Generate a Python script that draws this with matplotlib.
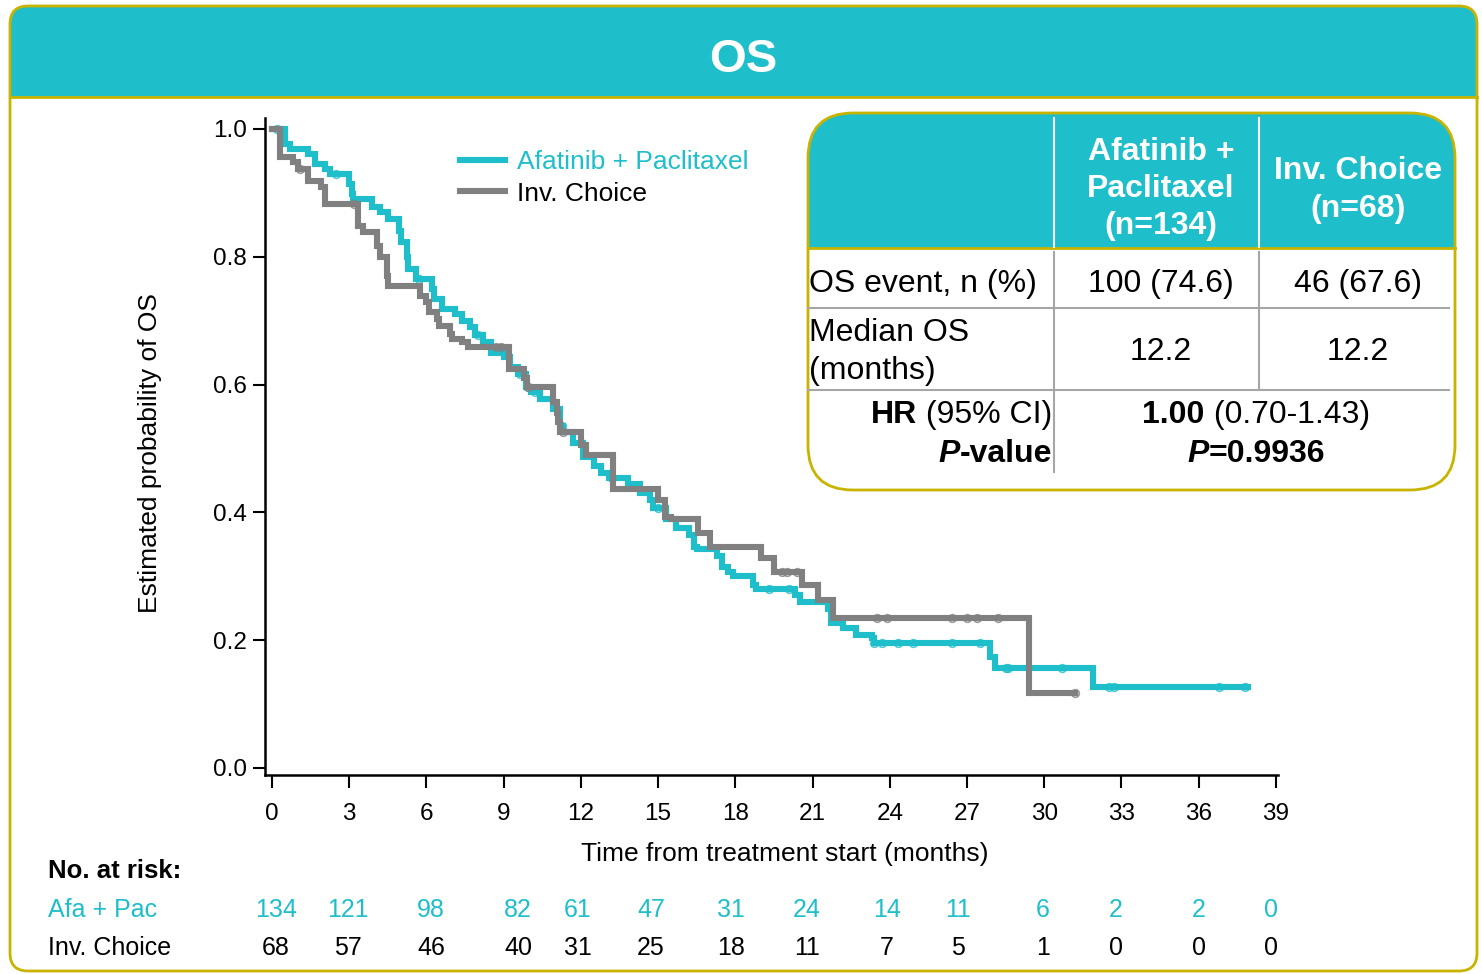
import matplotlib
matplotlib.use('Agg')
import matplotlib.pyplot as plt
import numpy as np
from matplotlib.patches import FancyBboxPatch, Rectangle
from matplotlib.transforms import blended_transform_factory

plt.rcParams['font.family'] = ['Liberation Sans', 'DejaVu Sans']

# ---------------- data ----------------
arm_labels = ['Afatinib + Paclitaxel', 'Inv. Choice']

# Kaplan-Meier steps: event times (months) and survival after each step
afa_times = [0.5, 0.7, 1.4, 1.67, 2.06, 2.25, 3.0, 3.1, 3.15, 3.9, 4.2, 4.5,
             4.95, 5.0, 5.25, 5.3, 5.6, 6.2, 6.3, 6.6, 7.1, 7.4, 7.7, 7.9,
             8.2, 8.5, 9.0, 9.25, 9.55, 9.85, 10.05, 10.4, 10.9, 11.2, 11.3,
             11.7, 12.1, 12.5, 12.8, 13.1, 13.85, 14.3, 14.7, 14.8, 15.3,
             15.7, 16.2, 16.4, 16.5, 17.3, 17.5, 17.7, 17.9, 18.7, 18.8,
             20.3, 20.5, 21.6, 21.7, 22.2, 22.7, 23.3, 23.4, 27.9, 28.1, 31.9]
afa_surv = [0.976, 0.969, 0.961, 0.945, 0.937, 0.929, 0.913, 0.898, 0.890,
            0.878, 0.870, 0.859, 0.840, 0.823, 0.800, 0.780, 0.765, 0.749,
            0.734, 0.718, 0.710, 0.700, 0.690, 0.677, 0.666, 0.650, 0.643,
            0.628, 0.616, 0.596, 0.588, 0.577, 0.561, 0.535, 0.525, 0.509,
            0.487, 0.472, 0.462, 0.454, 0.444, 0.431, 0.420, 0.407, 0.389,
            0.376, 0.365, 0.346, 0.342, 0.331, 0.315, 0.306, 0.300, 0.287,
            0.280, 0.271, 0.260, 0.248, 0.227, 0.219, 0.208, 0.204, 0.196,
            0.174, 0.157, 0.127]
afa_last = 37.9
afa_censored = [0.2, 2.5, 5.7, 8.0, 9.65, 9.95, 10.2, 11.25, 12.0, 13.2, 15.0,
                19.3, 20.1, 23.4, 23.7, 24.3, 24.9, 26.4, 27.5, 28.5, 28.6,
                30.7, 32.5, 32.7, 36.8, 37.8]

inv_times = [0.3, 0.8, 1.0, 1.4, 1.9, 2.06, 3.35, 3.55, 4.07, 4.2, 4.45, 4.5,
             5.75, 6.0, 6.1, 6.4, 6.5, 6.9, 7.0, 7.4, 7.6, 9.2, 9.8, 9.9,
             10.9, 11.07, 11.1, 11.2, 12.0, 12.2, 13.25, 15.0, 15.27, 15.5,
             16.55, 17.0, 19.0, 19.5, 20.6, 21.2, 21.8, 29.4]
inv_surv = [0.956, 0.948, 0.937, 0.918, 0.909, 0.882, 0.848, 0.838, 0.817,
            0.800, 0.770, 0.754, 0.738, 0.729, 0.713, 0.702, 0.691, 0.679,
            0.671, 0.666, 0.658, 0.624, 0.610, 0.596, 0.572, 0.556, 0.541,
            0.525, 0.506, 0.489, 0.436, 0.420, 0.393, 0.389, 0.368, 0.345,
            0.329, 0.307, 0.287, 0.263, 0.235, 0.118]
inv_last = 31.2
inv_censored = [1.1, 3.2, 8.7, 8.9, 9.95, 11.3, 19.8, 20.0, 20.4, 23.5, 23.9,
                26.4, 27.0, 27.4, 28.2, 31.2]

x_ticks = list(range(0, 40, 3))
y_ticks = [0.0, 0.2, 0.4, 0.6, 0.8, 1.0]

# numbers at risk and where they are printed (months)
risk_pos = [0.16, 2.95, 6.18, 9.56, 11.89, 14.72, 17.83, 20.78, 23.89, 26.65,
            29.95, 32.79, 36.01, 38.81]
afa_risk = [134, 121, 98, 82, 61, 47, 31, 24, 14, 11, 6, 2, 2, 0]
inv_risk = [68, 57, 46, 40, 31, 25, 18, 11, 7, 5, 1, 0, 0, 0]

# summary table
col_heads = ['Afatinib +\nPaclitaxel\n(n=134)', 'Inv. Choice\n(n=68)']
row_heads = ['OS event, n (%)', 'Median OS\n(months)']
afa_cells = ['100 (74.6)', '12.2']
inv_cells = ['46 (67.6)', '12.2']
hr_value = '1.00'
hr_ci = ' (0.70-1.43)'
p_value = '=0.9936'

# ---------------- styling ----------------
TEAL = '#1EBECA'
GRAY = '#808080'
OLIVE = '#C8B400'
DIV = '#A6A6A6'

W, H = 1482, 974
fig = plt.figure(figsize=(W / 100, H / 100), dpi=100)

# full-figure canvas in pixel units for the frame, table and labels
bg = fig.add_axes([0, 0, 1, 1])
bg.set_xlim(0, W)
bg.set_ylim(H, 0)
bg.axis('off')

frame = FancyBboxPatch((10, 6), 1467, 965, boxstyle='round,pad=0,rounding_size=18',
                       fc='white', ec='none')
bg.add_patch(frame)
header = Rectangle((10, 6), 1467, 91, fc=TEAL, ec='none')
header.set_clip_path(frame)
bg.add_patch(header)
bg.add_patch(FancyBboxPatch((10, 6), 1467, 965, boxstyle='round,pad=0,rounding_size=18',
                            fc='none', ec=OLIVE, lw=2))
bg.plot([10, 1477], [97, 97], color=OLIVE, lw=2)
bg.text(743, 60, 'OS', color='white', fontsize=34, fontweight='bold',
        ha='center', va='center')

# ---- summary table ----
tx0, ty0, tw, th = 808, 113, 647, 377
tbox = FancyBboxPatch((tx0, ty0), tw, th, boxstyle='round,pad=0,rounding_size=45',
                      fc='white', ec='none')
bg.add_patch(tbox)
thead = Rectangle((tx0, ty0), tw, 135, fc=TEAL, ec='none')
thead.set_clip_path(tbox)
bg.add_patch(thead)
bg.add_patch(FancyBboxPatch((tx0, ty0), tw, th, boxstyle='round,pad=0,rounding_size=45',
                            fc='none', ec=OLIVE, lw=2))
bg.plot([tx0, tx0 + tw], [248, 248], color=OLIVE, lw=2)
for xv in (1054, 1259):
    bg.plot([xv, xv], [118, 247], color='white', lw=1.5)
bg.plot([1054, 1054], [252, 472], color=DIV, lw=1.5)
bg.plot([1259, 1259], [252, 390], color=DIV, lw=1.5)
for yv in (308, 390):
    bg.plot([tx0, 1449], [yv, yv], color=DIV, lw=1.5)

TFS = 23
col_x = [1161, 1358]
bg.text(col_x[0], 189, col_heads[0], color='white', fontsize=TFS, fontweight='bold',
        ha='center', va='center', linespacing=1.32)
bg.text(col_x[1], 190, col_heads[1], color='white', fontsize=TFS, fontweight='bold',
        ha='center', va='center', linespacing=1.32)
row_y = [284, 352]
for yv, rh, a, b in zip(row_y, row_heads, afa_cells, inv_cells):
    bg.text(809, yv, rh, fontsize=TFS, ha='left', va='center', linespacing=1.32)
    bg.text(col_x[0], yv, a, fontsize=TFS, ha='center', va='center')
    bg.text(col_x[1], yv, b, fontsize=TFS, ha='center', va='center')

fig.canvas.draw()
renderer = fig.canvas.get_renderer()


def run_of_text(x, y, parts, align):
    """Place a sequence of differently styled text pieces on one line."""
    objs = [bg.text(0, y, s, fontsize=TFS, va='center', ha='left', **kw) for s, kw in parts]
    widths = [o.get_window_extent(renderer).width for o in objs]
    total = sum(widths)
    start = x - total if align == 'right' else x - total / 2
    for o, w in zip(objs, widths):
        o.set_x(start)
        start += w


run_of_text(1052, 415, [('HR', dict(fontweight='bold')), (' (95% CI)', {})], 'right')
run_of_text(1052, 454, [('P', dict(fontweight='bold', fontstyle='italic')),
                        ('-value', dict(fontweight='bold'))], 'right')
run_of_text(1256, 415, [(hr_value, dict(fontweight='bold')), (hr_ci, {})], 'center')
run_of_text(1256, 454, [('P', dict(fontweight='bold', fontstyle='italic')),
                        (p_value, dict(fontweight='bold'))], 'center')

# ---------------- KM plot ----------------
ax = fig.add_axes([265 / W, 1 - 775 / H, 1013 / W, 657 / H])
ax.patch.set_alpha(0)
ax.set_xlim(-0.27, 39.08)
ax.set_ylim(-0.011, 1.017)


def km_curve(times, surv, last, cens, color, label, z):
    xs = np.r_[0.0, times, last]
    ys = np.r_[1.0, surv, surv[-1]]
    line, = ax.step(xs, ys, where='post', color=color, lw=4.4, label=label,
                    solid_joinstyle='miter', zorder=z)
    cx = np.asarray(cens)
    idx = np.searchsorted(xs, cx, side='right') - 1
    ax.plot(cx, ys[idx], ls='none', marker='o', ms=5.5, mfc='none', mec=color,
            mew=1.2, zorder=z + 0.5, alpha=0.8)
    return line


l1 = km_curve(afa_times, afa_surv, afa_last, afa_censored, TEAL, arm_labels[0], 3)
l2 = km_curve(inv_times, inv_surv, inv_last, inv_censored, GRAY, arm_labels[1], 4)

for s in ('top', 'right'):
    ax.spines[s].set_visible(False)
for s in ('left', 'bottom'):
    ax.spines[s].set_linewidth(1.8)
ax.set_xticks(x_ticks)
ax.set_yticks(y_ticks)
ax.set_yticklabels([f'{v:.1f}' for v in y_ticks])
ax.tick_params(axis='both', labelsize=17.5, length=9, width=1.5, direction='out')
ax.tick_params(axis='x', pad=11)
ax.tick_params(axis='y', pad=4)

leg = ax.legend(handles=[l1, l2], loc='upper left', bbox_to_anchor=(447 / W, 1 - 137 / H),
                bbox_transform=fig.transFigure, frameon=False, fontsize=19,
                handlelength=1.7, handletextpad=0.45, labelspacing=0.28, borderpad=0)
leg.get_texts()[0].set_color(TEAL)

bg.text(150, 453, 'Estimated probability of OS', fontsize=19, rotation=90,
        ha='center', va='center')
bg.text(785, 854, 'Time from treatment start (months)', fontsize=19,
        ha='center', va='center')

# ---------------- numbers at risk ----------------
bg.text(48, 871, 'No. at risk:', fontsize=18.5, fontweight='bold', ha='left', va='center')
bg.text(48, 910, 'Afa + Pac', fontsize=18, color=TEAL, ha='left', va='center')
bg.text(48, 948, 'Inv. Choice', fontsize=18, color='black', ha='left', va='center')
tr = blended_transform_factory(ax.transData, bg.transData)
for xp, a, b in zip(risk_pos, afa_risk, inv_risk):
    ax.text(xp, 910, str(a), transform=tr, fontsize=18, color=TEAL,
            ha='center', va='center', clip_on=False)
    ax.text(xp, 948, str(b), transform=tr, fontsize=18, color='black',
            ha='center', va='center', clip_on=False)

fig.savefig('out.png', dpi=100)
